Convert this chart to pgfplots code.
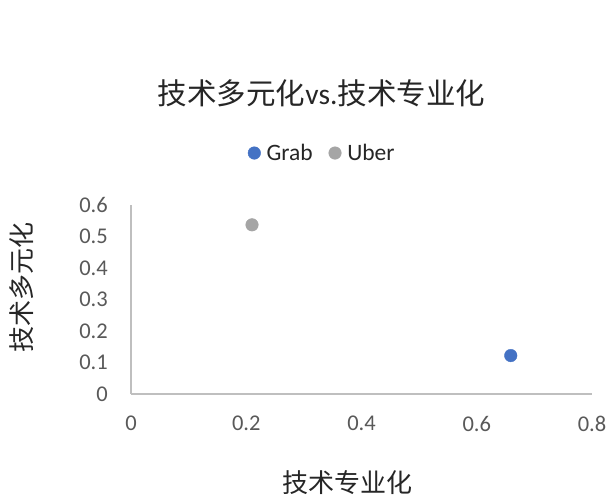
\documentclass[border=0pt]{standalone}
\usepackage{pgfplots}
\pgfplotsset{compat=1.18}
\usepackage{fontspec}
\setmainfont{Carlito}
\newfontfamily\cjk{Noto Sans CJK SC}
\definecolor{grab}{HTML}{4472C4}
\definecolor{uber}{HTML}{A5A5A5}
\definecolor{axgray}{HTML}{BFBFBF}
\definecolor{tickgray}{HTML}{595959}
\definecolor{txt}{HTML}{262626}
\begin{document}
\begin{tikzpicture}[x=1bp,y=1bp]
\path[use as bounding box] (0,0) rectangle (611,497);
\begin{axis}[
  at={(131bp,103bp)}, anchor=south west,
  scale only axis, width=461bp, height=189bp,
  xmin=0, xmax=0.8, ymin=0, ymax=0.6,
  xtick={0,0.2,0.4,0.6,0.8}, ytick={0,0.1,0.2,0.3,0.4,0.5,0.6},
  axis x line*=bottom, axis y line*=left,
  axis line style={color=axgray, line width=1.5bp, -},
  major tick length=0pt,
  /pgf/number format/assume math mode=true,
  /pgf/number format/fixed, /pgf/number format/precision=1,
  ticklabel style={font=\fontsize{22.5bp}{26bp}\selectfont, color=tickgray},
  xticklabel style={inner sep=0pt, yshift=-22bp},
  yticklabel style={inner sep=0pt, xshift=-23bp},
  clip=false,
  legend columns=2,
  legend style={at={(0.415,1.275)}, anchor=center, draw=none, fill=none,
    font=\fontsize{23.5bp}{27bp}\selectfont\color{txt},
    /tikz/every odd column/.append style={column sep=4bp},
    /tikz/every even column/.append style={column sep=14bp}},
  legend cell align=left,
]
\addplot[only marks, mark=*, mark size=6.3bp, color=grab] coordinates {(0.659,0.122)};
\addlegendentry{Grab}
\addplot[only marks, mark=*, mark size=6.3bp, color=uber] coordinates {(0.21,0.537)};
\addlegendentry{Uber}
\end{axis}
\node[text=txt, font=\fontsize{29.5bp}{34bp}\selectfont] at (321.5,404) {{\cjk 技术多元化}vs.{\cjk 技术专业化}};
\node[text=txt, font=\fontsize{26bp}{30bp}\selectfont\cjk] at (347.5,14) {技术专业化};
\node[text=txt, font=\fontsize{26bp}{30bp}\selectfont\cjk, rotate=90] at (22,209) {技术多元化};
\end{tikzpicture}
\end{document}
